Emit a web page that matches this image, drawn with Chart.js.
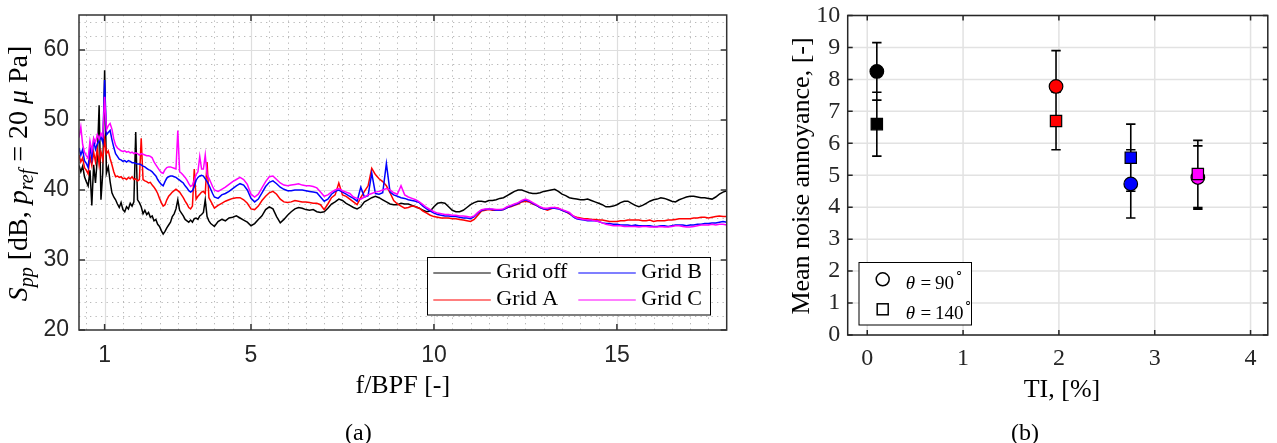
<!DOCTYPE html>
<html>
<head>
<meta charset="utf-8">
<script src="https://cdn.jsdelivr.net/npm/chart.js@4.4.1/dist/chart.umd.min.js"></script>
<style>
  html, body { margin: 0; padding: 0; background: #ffffff; width: 1277px; height: 443px; overflow: hidden; }
  .panel { position: absolute; top: 0; }
  #panelA { left: 0; width: 745px; height: 443px; }
  #panelB { left: 760px; width: 517px; height: 443px; }
  .caption { position: absolute; font-family: "Liberation Serif", serif; font-size: 24px; color: #000; line-height: 24px; }
</style>
</head>
<body>
<div class="panel" id="panelA"><canvas id="spectrum" width="745" height="443"></canvas></div>
<div class="panel" id="panelB"><canvas id="annoyance" width="517" height="443"></canvas></div>
<div class="caption" id="capA" style="left:345px; top:420px;">(a)</div>
<div class="caption" id="capB" style="left:1011px; top:420px;">(b)</div>
<script>
// ---------- Panel (a): pressure spectra vs normalised frequency ----------
const freq = [
  0.30,0.35,0.40,0.45,0.50,0.55,0.60,0.65,0.70,0.75,
  0.80,0.85,0.90,0.95,1.00,1.05,1.10,1.15,1.20,1.25,
  1.30,1.35,1.40,1.45,1.50,1.55,1.60,1.65,1.70,1.75,
  1.80,1.85,1.90,1.95,2.00,2.05,2.10,2.15,2.20,2.25,
  2.30,2.35,2.40,2.45,2.50,2.55,2.60,2.65,2.70,2.75,
  2.80,2.85,2.90,2.95,3.00,3.05,3.10,3.15,3.20,3.25,
  3.30,3.35,3.40,3.45,3.50,3.55,3.60,3.65,3.70,3.75,
  3.80,3.85,3.90,3.95,4.00,
  4.1,4.2,4.3,4.4,4.5,4.6,4.7,4.8,4.9,5.0,
  5.1,5.2,5.3,5.4,5.5,5.6,5.7,5.8,5.9,6.0,
  6.1,6.2,6.3,6.4,6.5,6.6,6.7,6.8,6.9,7.0,
  7.1,7.2,7.3,7.4,7.5,7.6,7.7,7.8,7.9,8.0,
  8.1,8.2,8.3,8.4,8.5,8.6,8.7,8.8,8.9,9.0,
  9.1,9.2,9.3,9.4,9.5,9.6,9.7,9.8,9.9,10.0,
  10.1,10.2,10.3,10.4,10.5,10.6,10.7,10.8,10.9,11.0,
  11.1,11.2,11.3,11.4,11.5,11.6,11.7,11.8,11.9,12.0,
  12.1,12.2,12.3,12.4,12.5,12.6,12.7,12.8,12.9,13.0,
  13.1,13.2,13.3,13.4,13.5,13.6,13.7,13.8,13.9,14.0,
  14.1,14.2,14.3,14.4,14.5,14.6,14.7,14.8,14.9,15.0,
  15.1,15.2,15.3,15.4,15.5,15.6,15.7,15.8,15.9,16.0,
  16.1,16.2,16.3,16.4,16.5,16.6,16.7,16.8,16.9,17.0,
  17.1,17.2,17.3,17.4,17.5,17.6,17.7,17.8,17.9,18.0
];

const gridOff = [
  43.5,42.6,43.4,41.9,41.2,40.6,42.8,37.8,43.6,41.0,
  44.5,52.1,38.6,42.5,57.1,42.4,43.3,41.2,39.6,39.0,
  38.6,38.0,37.5,38.2,37.2,36.9,37.6,37.3,38.1,37.7,
  38.3,48.3,38.6,38.2,37.6,36.6,37.1,36.5,36.8,36.1,
  36.3,35.6,35.8,35.1,34.8,34.2,33.7,34.1,34.6,35.0,
  35.4,36.2,36.6,37.3,38.6,37.1,36.7,36.3,35.8,35.6,
  35.4,35.7,35.4,35.9,36.0,35.8,36.3,36.5,36.8,38.6,
  36.2,35.6,35.2,35.0,34.8,
  35.5,35.8,35.6,36.0,36.1,36.3,36.0,35.7,35.4,34.9,
  35.2,35.8,36.3,37.2,37.6,37.3,36.2,35.3,35.8,36.4,
  36.9,37.3,37.5,37.4,37.2,37.1,37.2,36.9,36.8,36.9,
  37.4,38.0,38.3,38.7,38.5,38.1,37.8,37.5,37.3,37.6,
  38.3,38.6,38.9,39.1,38.9,38.6,38.3,38.0,37.9,37.9,
  38.1,38.0,38.0,37.8,37.6,37.4,37.1,36.9,37.0,37.6,
  38.1,38.2,38.1,37.6,37.1,36.9,36.9,37.1,37.5,37.9,
  38.2,38.4,38.4,38.3,38.5,38.5,38.6,38.8,38.9,39.2,
  39.5,39.8,40.0,40.0,39.8,39.6,39.5,39.5,39.6,39.8,
  39.9,40.0,40.1,39.8,39.4,39.2,38.9,38.8,38.7,38.6,
  38.6,38.7,38.5,38.3,38.1,37.9,37.6,37.6,37.7,37.9,
  38.2,38.4,38.4,38.1,37.8,37.6,37.8,38.1,38.4,38.6,
  38.7,38.9,38.8,38.6,38.4,38.3,38.6,38.8,39.0,39.1,
  39.1,39.0,38.9,38.9,38.8,38.7,39.0,39.4,39.7,39.9
];

const gridA = [
  45.0,44.0,44.6,43.2,42.8,42.3,44.8,43.5,45.4,44.0,
  46.0,43.6,45.5,44.3,47.2,45.2,45.6,44.5,43.6,42.6,
  41.9,42.0,41.8,41.9,41.6,41.7,41.5,41.8,41.6,41.9,
  41.5,41.6,41.3,41.5,47.4,41.5,41.3,41.2,41.0,41.1,
  40.7,40.4,40.0,39.5,38.8,38.2,37.7,37.9,38.6,39.1,
  39.4,39.7,39.9,40.1,39.9,39.7,39.3,38.9,38.4,38.0,
  37.5,37.3,37.7,43.0,38.7,39.1,39.4,39.7,39.8,39.5,
  44.0,38.9,38.4,37.9,37.4,
  37.8,38.1,38.4,38.6,38.8,38.9,38.9,38.6,38.1,37.3,
  37.2,37.7,38.5,39.1,39.6,39.8,39.4,38.7,38.3,38.2,
  38.3,38.5,38.4,38.3,38.3,38.2,38.1,38.1,37.9,37.2,
  38.0,38.9,39.3,41.0,39.3,39.1,38.7,38.3,37.9,38.9,
  39.8,40.6,43.1,42.2,41.6,41.2,40.6,39.6,38.5,38.0,
  37.7,37.4,37.5,37.7,37.6,37.4,37.0,36.7,36.4,36.2,
  36.1,36.0,36.0,36.0,35.9,35.9,35.8,35.7,35.6,35.5,
  35.8,36.4,37.0,37.1,37.2,37.1,37.1,37.1,37.2,37.5,
  37.6,37.8,38.0,38.3,38.4,38.3,38.0,37.8,37.5,37.3,
  37.1,37.3,37.5,37.4,37.1,36.9,36.6,36.3,36.1,36.0,
  35.9,35.9,35.8,35.8,35.7,35.7,35.6,35.5,35.5,35.5,
  35.6,35.6,35.7,35.7,35.7,35.7,35.6,35.6,35.7,35.5,
  35.6,35.6,35.6,35.7,35.7,35.8,35.9,35.9,35.9,35.9,
  36.0,36.0,36.1,36.1,36.0,36.1,36.2,36.3,36.2,36.2
];

const gridB = [
  46.0,45.0,45.8,44.2,43.8,43.2,46.2,44.5,47.1,45.8,
  46.6,47.0,47.6,46.8,55.7,47.9,48.2,48.5,47.2,46.1,
  45.2,44.8,44.4,44.3,44.1,44.2,44.0,44.2,44.1,43.9,
  43.9,43.8,43.7,43.7,43.6,43.4,43.3,43.1,42.9,42.8,
  42.6,42.3,42.0,41.5,41.1,40.8,40.6,41.2,41.7,41.9,
  42.0,42.0,41.9,41.8,41.6,41.4,41.2,41.0,40.6,40.3,
  39.9,39.7,39.9,40.5,41.4,41.8,42.0,42.1,42.0,41.6,
  41.2,40.7,40.1,39.5,39.0,
  38.8,39.3,39.5,39.8,40.2,40.6,40.9,40.7,40.0,38.8,
  38.3,38.7,39.6,40.5,41.1,41.3,40.9,40.4,40.1,39.9,
  39.9,40.0,40.0,40.0,39.9,39.8,39.7,39.6,39.0,38.4,
  38.7,39.4,39.8,40.0,39.7,39.4,39.1,38.8,38.4,40.4,
  39.0,39.2,42.4,39.5,39.4,39.6,43.8,39.7,39.3,39.1,
  38.9,38.8,38.6,38.5,38.4,38.2,37.7,37.3,37.0,36.7,
  36.5,36.4,36.3,36.3,36.2,36.2,36.1,36.0,36.0,35.9,
  36.2,36.7,37.1,37.2,37.3,37.2,37.1,37.1,37.2,37.5,
  37.7,37.9,38.1,38.4,38.6,38.4,38.1,37.8,37.5,37.3,
  37.3,37.4,37.4,37.3,37.1,36.9,36.7,36.2,35.9,35.8,
  35.7,35.6,35.6,35.6,35.5,35.3,35.2,35.2,35.1,35.1,
  35.0,35.0,35.0,34.9,35.0,34.9,34.9,34.9,34.9,34.8,
  34.8,34.9,34.9,34.8,34.9,35.0,35.0,35.0,34.9,35.0,
  35.0,35.1,35.1,35.2,35.2,35.3,35.3,35.4,35.5,35.4
];

const gridC = [
  47.5,49.0,46.5,45.4,44.9,44.5,47.0,45.6,47.4,46.8,
  47.9,47.3,48.1,47.6,53.3,48.6,49.2,49.5,48.7,47.3,
  46.4,46.0,45.8,45.6,45.5,45.6,45.4,45.5,45.3,45.4,
  45.2,45.3,45.2,45.0,45.2,45.1,45.0,44.9,44.9,44.8,
  44.6,44.0,43.6,43.2,42.8,42.5,42.4,42.9,43.2,43.3,
  43.3,43.2,43.1,43.0,48.5,42.6,42.4,42.1,41.8,41.4,
  40.9,40.5,40.7,41.4,42.2,42.6,44.8,43.0,43.0,45.0,
  42.2,41.7,41.1,40.5,40.0,
  39.8,40.1,40.4,40.8,41.2,41.5,41.8,41.5,40.8,39.4,
  39.0,39.4,40.3,41.2,41.9,42.0,41.5,41.0,40.7,40.6,
  40.7,40.8,40.9,40.7,40.6,40.6,40.5,40.3,39.7,39.1,
  39.3,39.7,40.0,40.2,39.9,39.7,39.5,39.0,38.8,38.7,
  39.0,39.3,39.5,39.7,39.8,40.0,40.2,40.0,39.6,39.4,
  40.6,39.3,39.0,38.8,38.6,38.3,37.9,37.5,37.2,36.9,
  36.7,36.6,36.5,36.5,36.4,36.4,36.3,36.3,36.2,36.1,
  36.3,36.8,37.2,37.3,37.3,37.3,37.2,37.2,37.3,37.6,
  37.8,38.0,38.2,38.5,38.7,38.5,38.2,37.9,37.6,37.4,
  37.4,37.5,37.5,37.4,37.2,37.0,36.8,36.3,36.0,35.9,
  35.8,35.7,35.7,35.6,35.5,35.3,35.1,35.0,34.9,34.9,
  34.9,34.8,34.8,34.8,34.8,34.7,34.8,34.8,34.7,34.7,
  34.7,34.8,34.7,34.7,34.8,34.9,34.9,34.8,34.7,34.7,
  34.8,34.9,35.0,35.0,35.0,35.1,35.0,35.1,35.1,35.0
];

const seriesNames = ['Grid off', 'Grid A', 'Grid B', 'Grid C'];
const seriesColors = ['#000000', '#ff0000', '#0000ff', '#ff00ff'];
const specXTicks = [1, 5, 10, 15];
const specYTicks = [20, 30, 40, 50, 60];

// ---------- Panel (b): mean annoyance vs turbulence intensity ----------
const tiValues = [0.10, 1.97, 2.75, 3.45];
const annoy90 = [8.25, 7.78, 4.73, 4.93];
const err90 = [0.90, 1.12, 1.07, 0.99];
const annoy140 = [6.60, 6.70, 5.55, 5.04];
const err140 = [1.00, 0.90, 1.05, 1.05];
const tiTicks = [0, 1, 2, 3, 4];
const annoyTicks = [0, 1, 2, 3, 4, 5, 6, 7, 8, 9, 10];

const SERIF = '"Liberation Serif", "Times New Roman", serif';
const SANS = '"Liberation Sans", Arial, sans-serif';

// Draws a row of text runs (italic, subscripts) centred on cx.
function drawRuns(ctx, runs, cx, cy, angle) {
  ctx.save();
  ctx.translate(cx, cy);
  ctx.rotate(angle);
  ctx.textBaseline = 'alphabetic';
  ctx.fillStyle = '#000';
  let total = 0;
  runs.forEach(r => {
    ctx.font = (r.italic ? 'italic ' : '') + r.size + 'px ' + SERIF;
    r.w = ctx.measureText(r.t).width;
    total += r.w;
  });
  let x = -total / 2;
  runs.forEach(r => {
    ctx.font = (r.italic ? 'italic ' : '') + r.size + 'px ' + SERIF;
    ctx.fillText(r.t, x, r.dy || 0);
    x += r.w;
  });
  ctx.restore();
}

function vLines(ctx, area, scale, values) {
  values.forEach(v => {
    const p = Math.round(scale.getPixelForValue(v)) + 0.5;
    ctx.moveTo(p, area.top); ctx.lineTo(p, area.bottom);
  });
}
function hLines(ctx, area, scale, values) {
  values.forEach(v => {
    const p = Math.round(scale.getPixelForValue(v)) + 0.5;
    ctx.moveTo(area.left, p); ctx.lineTo(area.right, p);
  });
}

// Axes box with inward tick marks on all four sides.
function drawBox(chart, xTicks, yTicks, len, color, width) {
  const { ctx, chartArea: a, scales: { x, y } } = chart;
  ctx.save();
  ctx.strokeStyle = color;
  ctx.lineWidth = width;
  ctx.beginPath();
  xTicks.forEach(v => {
    const p = x.getPixelForValue(v);
    ctx.moveTo(p, a.bottom); ctx.lineTo(p, a.bottom - len);
    ctx.moveTo(p, a.top); ctx.lineTo(p, a.top + len);
  });
  yTicks.forEach(v => {
    const p = y.getPixelForValue(v);
    ctx.moveTo(a.left, p); ctx.lineTo(a.left + len, p);
    ctx.moveTo(a.right, p); ctx.lineTo(a.right - len, p);
  });
  ctx.stroke();
  ctx.strokeRect(a.left, a.top, a.right - a.left, a.bottom - a.top);
  ctx.restore();
}

// keep the plot area exactly where the axis sizes put it
const noEdgePadding = s => { s.paddingTop = 0; s.paddingBottom = 0; s.paddingLeft = 0; s.paddingRight = 0; };

// minor grid positions for panel (a)
const specXMinor = [];
for (let v = 0.5; v < 18; v += 0.5) if (!specXTicks.includes(v)) specXMinor.push(v);
const specYMinor = [];
for (let v = 22; v < 65; v += 2) if (v % 10 !== 0) specYMinor.push(v);

const spectrumDecor = {
  id: 'spectrumDecor',
  beforeDatasetsDraw(chart) {
    const { ctx, chartArea: a, scales: { x, y } } = chart;
    ctx.save();
    ctx.beginPath();
    ctx.rect(a.left, a.top, a.right - a.left, a.bottom - a.top);
    ctx.clip();
    ctx.strokeStyle = '#b9b9b9';
    ctx.lineWidth = 1;
    ctx.setLineDash([1.3, 4.2]);
    ctx.beginPath();
    vLines(ctx, a, x, specXMinor);
    hLines(ctx, a, y, specYMinor);
    ctx.stroke();
    ctx.setLineDash([]);
    ctx.strokeStyle = '#dedede';
    ctx.lineWidth = 1.2;
    ctx.beginPath();
    vLines(ctx, a, x, specXTicks);
    hLines(ctx, a, y, specYTicks);
    ctx.stroke();
    ctx.restore();
  },
  afterDatasetsDraw(chart) {
    drawBox(chart, specXTicks, specYTicks, 6, '#333333', 1.5);
    const ctx = chart.ctx;
    // legend, two columns
    const box = { left: 427.5, top: 257.5, width: 283, height: 57.5 };
    ctx.save();
    ctx.fillStyle = '#ffffff';
    ctx.fillRect(box.left, box.top, box.width, box.height);
    ctx.strokeStyle = '#000';
    ctx.lineWidth = 1;
    ctx.strokeRect(box.left, box.top, box.width, box.height);
    const colX = [433.3, 578.3];
    const rowY = [273, 300];
    ctx.font = '22px ' + SERIF;
    ctx.textBaseline = 'alphabetic';
    chart.data.datasets.forEach((ds, i) => {
      const c = Math.floor(i / 2), r = i % 2;
      ctx.strokeStyle = ds.borderColor;
      ctx.lineWidth = 1.2;
      ctx.beginPath();
      ctx.moveTo(colX[c], rowY[r]);
      ctx.lineTo(colX[c] + 57.5, rowY[r]);
      ctx.stroke();
      ctx.fillStyle = '#000';
      ctx.fillText(ds.label, colX[c] + 63, rowY[r] + 4.5);
    });
    ctx.restore();
  },
  afterDraw(chart) {
    const ctx = chart.ctx;
    drawRuns(ctx, [{ t: 'f/BPF [-]', size: 26 }], 402.8, 392.7, 0);
    drawRuns(ctx, [
      { t: 'S', size: 28, italic: true },
      { t: 'pp', size: 20, italic: true, dy: 6 },
      { t: ' [dB, ', size: 28 },
      { t: 'p', size: 28, italic: true },
      { t: 'ref', size: 20, italic: true, dy: 6 },
      { t: ' = 20 ', size: 28 },
      { t: 'μ', size: 28, italic: true },
      { t: ' Pa]', size: 28 }
    ], 26.5, 173.5, -Math.PI / 2);
  }
};

new Chart(document.getElementById('spectrum'), {
  type: 'line',
  data: {
    datasets: [gridOff, gridA, gridB, gridC].map((vals, i) => ({
      label: seriesNames[i],
      data: vals.map((v, k) => ({ x: freq[k], y: v })),
      borderColor: seriesColors[i],
      borderWidth: 1.5,
      borderJoinStyle: 'miter',
      pointRadius: 0,
      fill: false,
      tension: 0,
      order: 4 - i
    }))
  },
  options: {
    responsive: false,
    animation: false,
    events: [],
    layout: { padding: { left: 0, top: 15, right: 18.3, bottom: 0 } },
    plugins: { legend: { display: false }, tooltip: { enabled: false } },
    scales: {
      x: {
        type: 'linear', min: 0.3, max: 18,
        afterBuildTicks: s => { s.ticks = specXTicks.map(v => ({ value: v })); },
        afterFit: s => { s.height = 113; noEdgePadding(s); },
        grid: { display: false, drawTicks: false },
        border: { display: false },
        ticks: { padding: 12, color: '#262626', font: { family: SANS, size: 23 }, maxRotation: 0, autoSkip: false }
      },
      y: {
        type: 'linear', min: 20, max: 65,
        afterBuildTicks: s => { s.ticks = specYTicks.map(v => ({ value: v })); },
        afterFit: s => { s.width = 79; noEdgePadding(s); },
        grid: { display: false, drawTicks: false },
        border: { display: false },
        ticks: { padding: 10, color: '#262626', font: { family: SANS, size: 23 }, autoSkip: false }
      }
    }
  },
  plugins: [spectrumDecor]
});

// ---------- Panel (b) chart ----------
const annoyDecor = {
  id: 'annoyDecor',
  beforeDatasetsDraw(chart) {
    const { ctx, chartArea: a, scales: { x, y } } = chart;
    ctx.save();
    ctx.strokeStyle = '#e2e2e2';
    ctx.lineWidth = 1.5;
    ctx.beginPath();
    tiTicks.forEach(v => { const p = x.getPixelForValue(v); ctx.moveTo(p, a.top); ctx.lineTo(p, a.bottom); });
    annoyTicks.forEach(v => { const p = y.getPixelForValue(v); ctx.moveTo(a.left, p); ctx.lineTo(a.right, p); });
    ctx.stroke();
    // error bars
    ctx.strokeStyle = '#000';
    ctx.lineWidth = 1.6;
    ctx.beginPath();
    const bar = (t, m, e) => {
      const px = x.getPixelForValue(t);
      const lo = y.getPixelForValue(m - e), hi = y.getPixelForValue(m + e);
      ctx.moveTo(px, lo); ctx.lineTo(px, hi);
      ctx.moveTo(px - 4.7, lo); ctx.lineTo(px + 4.7, lo);
      ctx.moveTo(px - 4.7, hi); ctx.lineTo(px + 4.7, hi);
    };
    tiValues.forEach((t, i) => { bar(t, annoy90[i], err90[i]); bar(t, annoy140[i], err140[i]); });
    ctx.stroke();
    ctx.restore();
  },
  afterDatasetsDraw(chart) {
    drawBox(chart, tiTicks, annoyTicks, 5, '#262626', 1.5);
    const ctx = chart.ctx;
    const box = { left: 99, top: 262.5, width: 112.5, height: 62.5 };
    ctx.save();
    ctx.fillStyle = '#fff';
    ctx.fillRect(box.left, box.top, box.width, box.height);
    ctx.strokeStyle = '#000';
    ctx.lineWidth = 1;
    ctx.strokeRect(box.left, box.top, box.width, box.height);
    const rows = [279.3, 309.3];
    const mx = 122.7;
    ctx.lineWidth = 1.5;
    ctx.beginPath();
    ctx.arc(mx, rows[0], 6.5, 0, Math.PI * 2);
    ctx.stroke();
    ctx.strokeRect(mx - 5.5, rows[1] - 5.5, 11, 11);
    const angles = ['90', '140'];
    chart.data.datasets.forEach((ds, i) => {
      const base = rows[i] + 10;
      ctx.fillStyle = '#000';
      ctx.textBaseline = 'alphabetic';
      ctx.font = 'italic 19px ' + SERIF;
      ctx.fillText('θ', 145.7, base);
      ctx.font = '19px ' + SERIF;
      ctx.fillText('=', 160.5, base);
      ctx.fillText(angles[i], 175, base);
      const w = ctx.measureText(angles[i]).width;
      ctx.font = '13px ' + SERIF;
      ctx.fillText('∘', 175 + w + 0.5, base - 13);
    });
    ctx.restore();
  },
  afterDraw(chart) {
    const ctx = chart.ctx;
    drawRuns(ctx, [{ t: 'TI, [%]', size: 26 }], 302, 396.7, 0);
    drawRuns(ctx, [{ t: 'Mean noise annoyance, [-]', size: 26 }], 48.5, 176, -Math.PI / 2);
  }
};

new Chart(document.getElementById('annoyance'), {
  type: 'scatter',
  data: {
    datasets: [
      {
        label: 'θ = 90°',
        data: tiValues.map((t, i) => ({ x: t, y: annoy90[i] })),
        pointStyle: 'circle',
        pointRadius: 6.8,
        pointBackgroundColor: seriesColors,
        pointBorderColor: '#000',
        pointBorderWidth: 1.2,
        order: 2
      },
      {
        label: 'θ = 140°',
        data: tiValues.map((t, i) => ({ x: t, y: annoy140[i] })),
        pointStyle: 'rect',
        pointRadius: 8,
        pointBackgroundColor: seriesColors,
        pointBorderColor: '#000',
        pointBorderWidth: 1.2,
        order: 1
      }
    ]
  },
  options: {
    responsive: false,
    animation: false,
    events: [],
    layout: { padding: { left: 0, top: 15.5, right: 0.5, bottom: 0 } },
    plugins: { legend: { display: false }, tooltip: { enabled: false } },
    scales: {
      x: {
        type: 'linear', min: -0.204, max: 4.18,
        afterBuildTicks: s => { s.ticks = tiTicks.map(v => ({ value: v })); },
        afterFit: s => { s.height = 108; noEdgePadding(s); },
        grid: { display: false, drawTicks: false },
        border: { display: false },
        ticks: { padding: 9, color: '#262626', font: { family: SERIF, size: 24 }, maxRotation: 0, autoSkip: false }
      },
      y: {
        type: 'linear', min: 0, max: 10,
        afterBuildTicks: s => { s.ticks = annoyTicks.map(v => ({ value: v })); },
        afterFit: s => { s.width = 87.7; noEdgePadding(s); },
        grid: { display: false, drawTicks: false },
        border: { display: false },
        ticks: { padding: 7.5, color: '#262626', font: { family: SERIF, size: 24 }, autoSkip: false }
      }
    }
  },
  plugins: [annoyDecor]
});
</script>
</body>
</html>
